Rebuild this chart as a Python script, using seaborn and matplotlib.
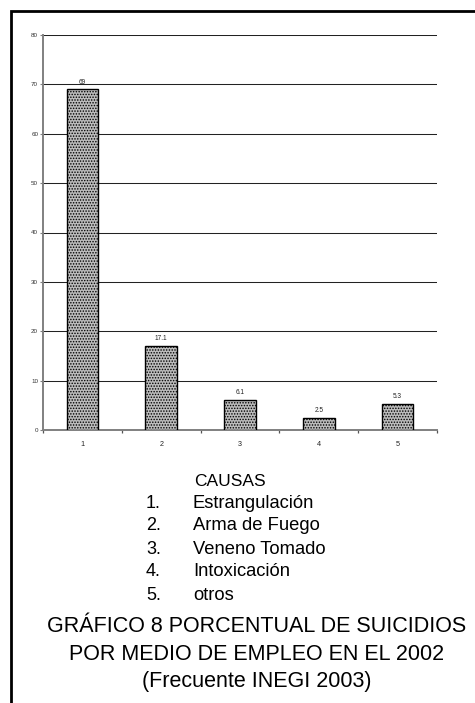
import matplotlib
matplotlib.use("Agg")
import matplotlib.pyplot as plt
import seaborn as sns
import pandas as pd
from matplotlib.patches import Rectangle

# Data: percentage of suicides by method, 2002
categorias = ["1", "2", "3", "4", "5"]
porcentajes = [69, 17.1, 6.1, 2.5, 5.3]
etiquetas = ["69", "17.1", "6.1", "2.5", "5.3"]
y_ticks = [0, 10, 20, 30, 40, 50, 60, 70, 80]
causas = ["Estrangulación", "Arma de Fuego", "Veneno Tomado", "Intoxicación", "otros"]
titulo = ["GRÁFICO 8 PORCENTUAL DE SUICIDIOS",
          "POR MEDIO DE EMPLEO EN EL 2002",
          "(Frecuente INEGI 2003)"]

sns.set_theme(style="white")
plt.rcParams["font.family"] = ["Liberation Sans", "DejaVu Sans"]
plt.rcParams["hatch.linewidth"] = 0.7
plt.rcParams["hatch.color"] = "#3c3c3c"

W, H = 475, 703
fig = plt.figure(figsize=(W / 100, H / 100), dpi=100)
fig.patch.set_facecolor("white")

# Outer frame (open to the right and bottom)
fig.add_artist(Rectangle((11 / W, -0.05), 1.2, 1 - 11 / H + 0.05,
                         transform=fig.transFigure, fill=False,
                         edgecolor="black", linewidth=2.0))

ax = fig.add_axes([43 / W, (H - 430) / H, (437 - 43) / W, (430 - 35) / H])
df = pd.DataFrame({"causa": categorias, "pct": porcentajes})
sns.barplot(data=df, x="causa", y="pct", ax=ax, width=0.4,
            color="#bcbcbc", edgecolor="black", linewidth=1.0,
            saturation=1, zorder=3)
for p in ax.patches:
    p.set_hatch("......")

for i, (v, t) in enumerate(zip(porcentajes, etiquetas)):
    ax.annotate(t, (i, v), xytext=(0, 2.5), textcoords="offset points",
                ha="center", va="bottom", fontsize=4.7, color="#222222")

ax.set_ylim(0, 80)
ax.set_xlim(-0.5, 4.5)
ax.set_yticks(y_ticks)
ax.set_yticklabels([str(t) for t in y_ticks])
ax.yaxis.grid(True, color="#222222", linewidth=0.75, zorder=1)
ax.set_axisbelow(True)
ax.set_xlabel("")
ax.set_ylabel("")

for s in ["top", "right"]:
    ax.spines[s].set_visible(False)
for s in ["left", "bottom"]:
    ax.spines[s].set_color("#808080")
    ax.spines[s].set_linewidth(1.4)

ax.tick_params(axis="y", which="major", direction="out", length=2.5,
               width=0.8, color="#808080", labelsize=4.5, pad=1,
               left=True, labelcolor="#333333")
ax.set_xticks(range(len(categorias)))
ax.set_xticklabels(categorias)
ax.tick_params(axis="x", which="major", length=0, labelsize=5.2, pad=8,
               labelcolor="#222222")
ax.set_xticks([i - 0.5 for i in range(len(categorias) + 1)], minor=True)
ax.tick_params(axis="x", which="minor", direction="out", length=2.5,
               width=0.9, color="#555555", bottom=True)

# Legend of causes beneath the chart
fig.text(230 / W, 1 - 482 / H, "CAUSAS", ha="center", va="center",
         fontsize=12.5, color="black")
row_y = [503, 526, 549, 572, 595]
for k, (nombre, y) in enumerate(zip(causas, row_y)):
    fig.text(146 / W, 1 - y / H, f"{k + 1}.", ha="left", va="center",
             fontsize=13, color="black")
    fig.text(193 / W, 1 - y / H, nombre, ha="left", va="center",
             fontsize=13.2, color="black")

for linea, y in zip(titulo, [627, 654, 681]):
    fig.text(257 / W, 1 - y / H, linea, ha="center", va="center",
             fontsize=15.5, color="black")

fig.savefig("out.png", dpi=100)
